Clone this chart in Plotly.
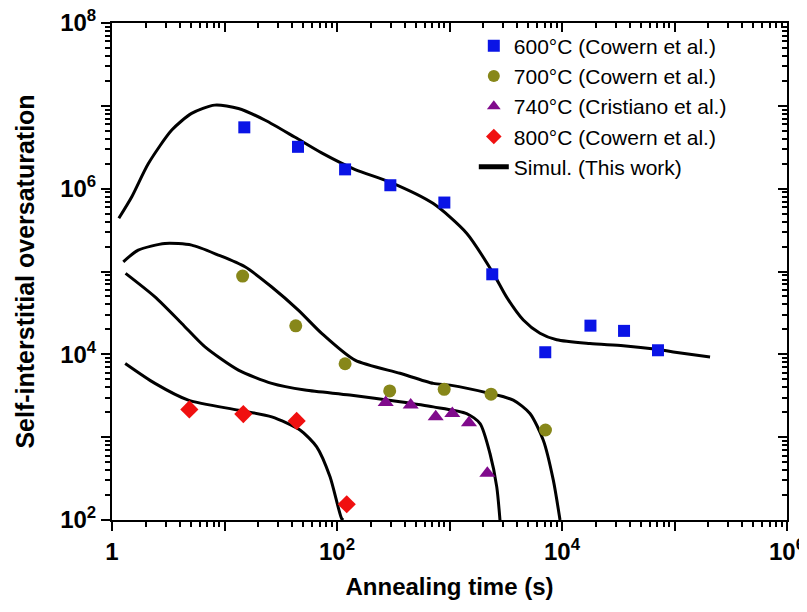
import plotly.graph_objects as go

# ---- measured data ----
t600 = [15, 45, 118, 298, 900, 2400, 7100, 17900, 35600, 71300]
s600 = [5.5e6, 3.2e6, 1.71e6, 1.10e6, 6.8e5, 9.25e4, 1.06e4, 2.22e4, 1.92e4, 1.12e4]

t700 = [14.5, 43, 118, 294, 897, 2340, 7130]
s700 = [8.8e4, 2.21e4, 7.7e3, 3.62e3, 3.78e3, 3.3e3, 1.22e3]

t740 = [271, 452, 754, 1059, 1490, 2170]
s740 = [2.62e3, 2.45e3, 1.76e3, 1.93e3, 1.49e3, 367]

t800 = [4.87, 14.7, 43.8, 122]
s800 = [2.16e3, 1.90e3, 1.57e3, 155]

# ---- simulation curves ----
sim600_t = [1.15, 1.5, 2.1, 3.4, 5.1, 8.2, 13.3, 23, 42, 73, 145, 296, 718, 1420,
            2450, 3220, 4530, 6370, 8970, 17700, 35000, 69500, 97600, 207000]
sim600_s = [4.4e5, 8.0e5, 2.0e6, 5.1e6, 8.1e6, 1.02e7, 9.3e6, 6.7e6, 4.2e6, 2.7e6,
            1.7e6, 1.2e6, 6.6e5, 2.9e5, 9.5e4, 4.9e4, 2.6e4, 1.8e4, 1.5e4, 1.35e4,
            1.27e4, 1.15e4, 1.07e4, 9.3e3]

sim700_t = [1.26, 1.71, 2.96, 5.11, 8.81, 15.2, 26.3, 45.3, 73.1, 144.5, 363, 718,
            1010, 2290, 3690, 5190, 6820, 8370, 9600]
sim700_s = [1.31e5, 1.81e5, 2.18e5, 2.08e5, 1.58e5, 1.14e5, 6.5e4, 3.42e4, 1.79e4,
            8.5e3, 5.9e3, 4.46e3, 4.25e3, 3.37e3, 2.80e3, 1.93e3, 920, 303, 100]

sim740_t = [1.32, 2.41, 4.17, 6.71, 13.3, 26.3, 52, 130, 363, 718, 1420, 1870,
            2290, 2630, 2810]
sim740_s = [9.5e4, 4.94e4, 2.36e4, 1.23e4, 6.45e3, 4.46e3, 3.70e3, 3.22e3, 2.67e3,
            2.32e3, 1.93e3, 1.46e3, 635, 251, 100]

sim800_t = [1.31, 2.41, 4.77, 13.3, 26.3, 46.9, 66, 86.7, 110, 114]
sim800_s = [7.76e3, 4.46e3, 2.80e3, 2.12e3, 1.76e3, 1.22e3, 764, 332, 104, 100]

xtickvals = [1, 10, 100, 1e3, 1e4, 1e5, 1e6]
xticktext = ["1", "", "10<sup>2</sup>", "", "10<sup>4</sup>", "", "10<sup>6</sup>"]
ytickvals = [1e2, 1e3, 1e4, 1e5, 1e6, 1e7, 1e8]
yticktext = ["10<sup>2</sup>", "", "10<sup>4</sup>", "", "10<sup>6</sup>", "", "10<sup>8</sup>"]

def minors(lo, hi):
    out = []
    for e in range(lo, hi):
        for d in range(2, 10):
            out.append(d * 10 ** e)
    return out

xminor = minors(0, 6)
yminor = minors(2, 8)

fig = go.Figure()

first = True
for tt, ss in [(sim600_t, sim600_s), (sim700_t, sim700_s),
               (sim740_t, sim740_s), (sim800_t, sim800_s)]:
    fig.add_trace(go.Scatter(
        x=tt, y=ss, mode="lines",
        line=dict(color="black", width=3, shape="spline", smoothing=0.7),
        name="Simul. (This work)", showlegend=first, legendrank=5))
    first = False

fig.add_trace(go.Scatter(x=t600, y=s600, mode="markers", name="600°C (Cowern et al.)",
                         marker=dict(symbol="square", size=12, color="#0a14e6"), legendrank=1))
fig.add_trace(go.Scatter(x=t700, y=s700, mode="markers", name="700°C (Cowern et al.)",
                         marker=dict(symbol="circle", size=13, color="#87871a"), legendrank=2))
fig.add_trace(go.Scatter(x=t740, y=s740, mode="markers", name="740°C (Cristiano et al.)",
                         marker=dict(symbol="triangle-up", size=14, color="#800a8c"), legendrank=3))
fig.add_trace(go.Scatter(x=t800, y=s800, mode="markers", name="800°C (Cowern et al.)",
                         marker=dict(symbol="diamond", size=14, color="#f01010"), legendrank=4))

# invisible trace to hold mirror axes
fig.add_trace(go.Scatter(x=[1], y=[100], xaxis="x2", yaxis="y2", mode="markers",
                         marker=dict(opacity=0), showlegend=False, hoverinfo="skip"))

FONT = "Liberation Sans, Arial"
tickfont = dict(family=FONT, size=24, color="black", weight="bold")

fig.update_layout(
    width=791, height=596,
    margin=dict(l=104, r=12, t=15, b=84),
    paper_bgcolor="white", plot_bgcolor="white",
    font=dict(family=FONT, color="black"),
    xaxis=dict(type="log", range=[0, 6], showline=True, linewidth=2, linecolor="black",
               mirror=True, ticks="outside", ticklen=9, tickwidth=2, tickcolor="black",
               tickmode="array", tickvals=xtickvals, ticktext=xticktext,
               minor=dict(tickmode="array", tickvals=xminor, ticks="outside", ticklen=5,
                          tickwidth=1.5, tickcolor="black"),
               showgrid=False, zeroline=False, tickfont=tickfont, automargin=False,
               ticklabeloverflow="allow",
               title=dict(text="Annealing time (s)", standoff=14,
                          font=dict(size=24, weight="bold", family=FONT))),
    yaxis=dict(type="log", range=[2, 8], showline=True, linewidth=2, linecolor="black",
               mirror=True, ticks="outside", ticklen=9, tickwidth=2, tickcolor="black",
               tickmode="array", tickvals=ytickvals, ticktext=yticktext,
               minor=dict(tickmode="array", tickvals=yminor, ticks="outside", ticklen=5,
                          tickwidth=1.5, tickcolor="black"),
               showgrid=False, zeroline=False, tickfont=tickfont, automargin=False,
               ticklabeloverflow="allow",
               title=dict(text="Self-interstitial oversaturation", standoff=18,
                          font=dict(size=25, weight="bold", family=FONT))),
    xaxis2=dict(type="log", range=[0, 6], overlaying="x", side="top", anchor="y",
                ticks="inside", ticklen=9, tickwidth=2, tickcolor="black",
                tickmode="array", tickvals=xtickvals, showticklabels=False,
                minor=dict(tickmode="array", tickvals=xminor, ticks="inside", ticklen=5,
                           tickwidth=1.5, tickcolor="black"),
                showgrid=False, zeroline=False, showline=True, linewidth=2,
                linecolor="black", automargin=False),
    yaxis2=dict(type="log", range=[2, 8], overlaying="y", side="right", anchor="x",
                ticks="inside", ticklen=9, tickwidth=2, tickcolor="black",
                tickmode="array", tickvals=ytickvals, showticklabels=False,
                minor=dict(tickmode="array", tickvals=yminor, ticks="inside", ticklen=5,
                           tickwidth=1.5, tickcolor="black"),
                showgrid=False, zeroline=False, showline=True, linewidth=2,
                linecolor="black", automargin=False),
    legend=dict(x=0.536, y=0.995, xanchor="left", yanchor="top",
                bgcolor="rgba(0,0,0,0)", font=dict(size=21, family=FONT),
                itemsizing="constant", tracegroupgap=0),
    showlegend=True,
)

fig.write_html("out.html")
